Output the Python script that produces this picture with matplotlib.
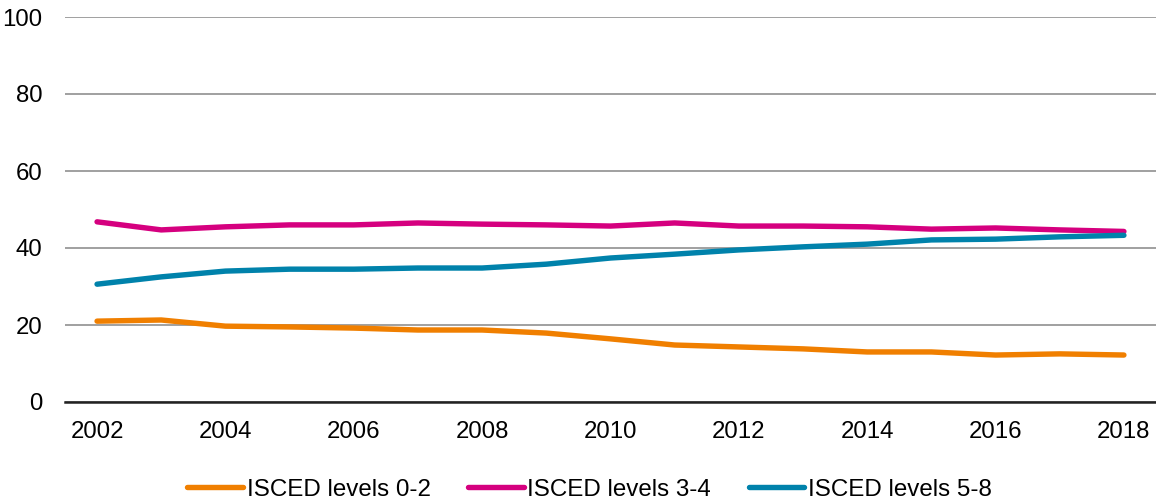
import matplotlib
matplotlib.use('Agg')
import matplotlib.pyplot as plt

plt.rcParams['font.family'] = ['Liberation Sans', 'DejaVu Sans']

# 数据
years = list(range(2002, 2019))
isced_02 = [21.0, 21.3, 19.7, 19.5, 19.2, 18.7, 18.7, 17.9, 16.4, 14.8, 14.3, 13.8, 13.0, 13.0, 12.2, 12.5, 12.2]
isced_34 = [46.8, 44.7, 45.5, 46.0, 46.0, 46.5, 46.2, 46.0, 45.7, 46.5, 45.7, 45.7, 45.5, 44.9, 45.2, 44.7, 44.3]
isced_58 = [30.6, 32.5, 34.0, 34.5, 34.5, 34.8, 34.8, 35.8, 37.4, 38.4, 39.5, 40.3, 41.0, 42.1, 42.3, 42.9, 43.3]
tick_labels = [str(y) for y in years[::2]]

series = [
    ('ISCED levels 0-2', isced_02, '#F07F00'),
    ('ISCED levels 3-4', isced_34, '#D5007F'),
    ('ISCED levels 5-8', isced_58, '#0082AB'),
]

fig = plt.figure(figsize=(11.56, 5.0), dpi=100)
ax = fig.add_axes([0.0562, 0.196, 0.9438, 0.77])

x = list(range(len(years)))
for name, vals, col in series:
    ax.plot(x, vals, color=col, linewidth=3.9, label=name,
            solid_capstyle='round', solid_joinstyle='round', zorder=3)

ax.set_xlim(-0.5, len(years) - 0.5)
ax.set_ylim(0, 100)
ax.set_yticks(range(0, 101, 20))
ax.set_xticks(x[::2])
ax.set_xticklabels(tick_labels)

ax.grid(axis='y', color='#999999', linewidth=1.3)
ax.set_axisbelow(True)
for s in ['top', 'right', 'left']:
    ax.spines[s].set_visible(False)
ax.spines['bottom'].set_color('#222222')
ax.spines['bottom'].set_linewidth(1.8)
ax.tick_params(axis='both', length=0, labelsize=17.3, colors='black')
ax.tick_params(axis='y', pad=16)
ax.tick_params(axis='x', pad=14)

fig.legend(loc='lower center', bbox_to_anchor=(0.51, -0.045), ncol=3, frameon=False,
           fontsize=17.4, handlelength=2.3, handletextpad=0.15, columnspacing=1.55)

plt.savefig('out.png', dpi=100)
